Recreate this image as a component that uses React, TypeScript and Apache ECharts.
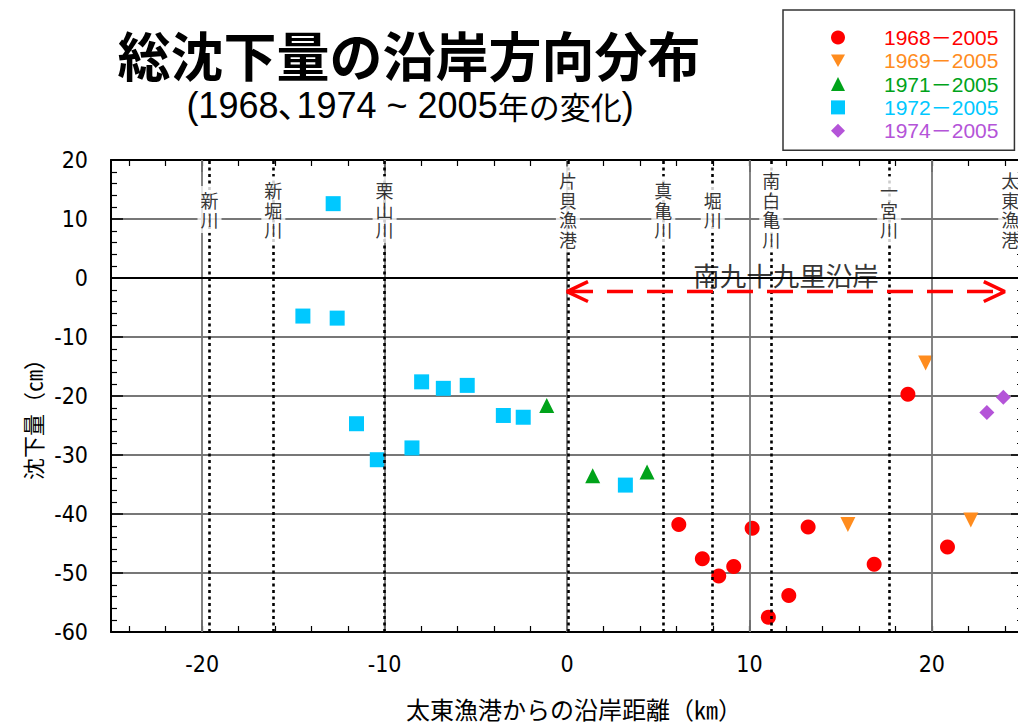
import React, { useEffect, useRef } from 'react';
import * as echarts from 'echarts';

// ---- data ----
const xMajorTicks = [-20, -10, 0, 10, 20];
const xMinorTicks = [-24, -22, -20, -18, -16, -14, -12, -10, -8, -6, -4, -2, 0, 2, 4, 6, 8, 10, 12, 14, 16, 18, 20, 22, 24];

const s1968: number[][] = [
  [6.13, -41.8], [7.42, -47.6], [8.32, -50.5], [9.14, -48.9], [10.15, -42.4], [11.04, -57.5],
  [12.16, -53.8], [13.22, -42.2], [16.84, -48.5], [18.69, -19.7], [20.86, -45.6],
];
const s1969: number[][] = [[15.4, -41.8], [19.66, -14.4], [22.14, -41.0]];
const s1971: number[][] = [[-1.11, -21.6], [1.41, -33.5], [4.39, -32.9]];
const s1972: number[][] = [
  [-14.48, -6.45], [-12.82, 12.6], [-12.6, -6.8], [-11.54, -24.7], [-10.4, -30.8], [-8.5, -28.8],
  [-7.97, -17.6], [-6.78, -18.7], [-5.47, -18.2], [-3.49, -23.3], [-2.4, -23.6], [3.2, -35.1],
];
const s1974: number[][] = [[23.02, -22.8], [23.92, -20.2]];

const seriesNames = ['1968－2005', '1969－2005', '1971－2005', '1972－2005', '1974－2005'];
const seriesColors = ['#ff0000', '#ff8c1e', '#00a31a', '#00c8ff', '#b454d8'];
const seriesData = [s1968, s1969, s1971, s1972, s1974];

const riverNames = ['新川', '新堀川', '栗山川', '片貝漁港', '真亀川', '堀川', '南白亀川', '一宮川', '太東漁港'];
const riverX = [-19.6, -16.1, -10.0, 0.05, 5.28, 7.99, 11.2, 17.66, 24.3];
const riverHasLine = [true, true, true, true, true, true, true, true, false];
const riverLabelY = 11.6;

const regionName = '南九十九里沿岸';
const regionLabelAt = [12.0, 0.63];
const arrowFrom = 0;
const arrowTo = 24;
const arrowY = -2.3;
const arrowHeadLen = 1.15;
const arrowHeadHalf = 1.68;

// ---- styles ----
const cjk = "'Noto Sans CJK JP', sans-serif";
const latin = "'Liberation Sans', Arial, 'Noto Sans CJK JP', sans-serif";
const narrow = "'Liberation Sans Narrow', 'DejaVu Sans Condensed', 'Liberation Sans', sans-serif";
const downTriangle = 'path://M0,0L10,0L5,9Z';

function buildOption() {
  const baseX = { type: 'value', min: -25, max: 25, gridIndex: 0 };
  const majorX = (position: string, labels: boolean) => ({
    ...baseX,
    position,
    axisLine: { show: true, onZero: false, lineStyle: { color: '#000', width: 2 } },
    axisTick: { show: true, inside: true, length: 12, customValues: xMajorTicks, lineStyle: { color: '#000', width: 1.5 } },
    axisLabel: labels
      ? { show: true, customValues: xMajorTicks, margin: 20, fontSize: 23, color: '#000', fontFamily: narrow }
      : { show: false },
    splitLine: { show: false },
    ...(labels
      ? {
          name: '太東漁港からの沿岸距離（㎞）',
          nameLocation: 'middle',
          nameGap: 64,
          nameTextStyle: { fontSize: 24, color: '#000', fontFamily: cjk, padding: [0, 0, 0, 14] },
        }
      : {}),
  });
  const minorX = (position: string) => ({
    ...baseX,
    position,
    axisLine: { show: false, onZero: false },
    axisTick: { show: true, inside: true, length: 6, customValues: xMinorTicks, lineStyle: { color: '#000', width: 1.2 } },
    axisLabel: { show: false },
    splitLine: { show: false },
  });
  const yAx = (position: string, labels: boolean) => ({
    type: 'value',
    min: -60,
    max: 20,
    interval: 10,
    position,
    axisLine: { show: true, onZero: false, lineStyle: { color: '#000', width: 2 } },
    axisTick: { show: true, inside: true, length: 12, lineStyle: { color: '#000', width: 1.5 } },
    minorTick: { show: true, splitNumber: 5, length: 6, lineStyle: { color: '#000', width: 1.2 } },
    axisLabel: labels ? { show: true, margin: 23, fontSize: 23, color: '#000', fontFamily: narrow } : { show: false },
    splitLine: labels ? { show: true, lineStyle: { color: '#777', width: 1.8 } } : { show: false },
    ...(labels
      ? {
          name: '沈下量（㎝）',
          nameLocation: 'middle',
          nameGap: 68,
          nameTextStyle: { fontSize: 22, color: '#000', fontFamily: cjk, padding: [0, 36, 0, 0] },
        }
      : {}),
  });

  const scatterSeries = (i: number, symbol: string, size: number, extra: any = {}) => ({
    name: seriesNames[i],
    type: 'scatter',
    symbol,
    symbolSize: size,
    data: seriesData[i],
    itemStyle: { color: seriesColors[i], opacity: 1 },
    z: 3,
    ...extra,
  });

  const riverLabelData = riverNames.map((n, i) => [riverX[i], riverLabelY, n]);

  return {
    animation: false,
    backgroundColor: '#fff',
    title: [
      {
        text: '総沈下量の沿岸方向分布',
        left: 409,
        top: 27,
        padding: 0,
        textAlign: 'center',
        textStyle: { fontSize: 53, fontWeight: 'bold', fontFamily: cjk, color: '#000' },
      },
      {
        text: '{a|(1968､1974 ~ 2005}{b|年の変化}{a|)}',
        left: 410,
        top: 87,
        padding: 0,
        textAlign: 'center',
        textStyle: {
          fontWeight: 'normal',
          rich: {
            a: { fontSize: 36, fontFamily: latin, color: '#000', fontWeight: 'normal' },
            b: { fontSize: 31, fontFamily: cjk, color: '#000', fontWeight: 'normal' },
          },
        },
      },
    ],
    legend: {
      orient: 'vertical',
      left: 783,
      top: 10,
      padding: [17, 16, 9, 48],
      itemGap: 2.3,
      itemWidth: 14,
      itemHeight: 14,
      borderColor: '#333',
      borderWidth: 1.5,
      backgroundColor: '#fff',
      textStyle: { fontSize: 21, fontFamily: latin, padding: [0, 0, 0, 34] },
      data: seriesNames.map((n, i) => ({
        name: n,
        textStyle: { color: seriesColors[i] },
        ...(i === 1 ? { icon: downTriangle } : {}),
      })),
    },
    grid: { left: 111, right: 7, top: 160, bottom: 90, containLabel: false },
    xAxis: [majorX('bottom', true), minorX('bottom'), majorX('top', false), minorX('top')],
    yAxis: [yAx('left', true), yAx('right', false)],
    series: [
      {
        name: 'grid',
        type: 'scatter',
        data: [],
        z: 1,
        markLine: {
          silent: true,
          symbol: ['none', 'none'],
          label: { show: false },
          lineStyle: { color: '#777', width: 1.8, type: 'solid' },
          data: xMajorTicks.map((v) => ({ xAxis: v })),
        },
      },
      {
        name: 'zero',
        type: 'scatter',
        data: [],
        z: 2,
        markLine: {
          silent: true,
          symbol: ['none', 'none'],
          label: { show: false },
          lineStyle: { color: '#000', width: 2, type: 'solid' },
          data: [{ yAxis: 0 }],
        },
      },
      scatterSeries(0, 'circle', 15),
      scatterSeries(1, 'triangle', 15, { symbolRotate: 180 }),
      scatterSeries(2, 'triangle', 15),
      scatterSeries(3, 'rect', 15),
      scatterSeries(4, 'diamond', 15),
      {
        name: 'rivers',
        type: 'scatter',
        data: [],
        z: 4,
        markLine: {
          silent: true,
          symbol: ['none', 'none'],
          label: { show: false },
          lineStyle: { color: '#000', width: 2.6, type: [3, 3.5] },
          data: riverX.filter((_, i) => riverHasLine[i]).map((v) => ({ xAxis: v })),
        },
      },
      {
        name: 'arrow',
        type: 'line',
        data: [[arrowFrom, arrowY], [arrowTo, arrowY]],
        symbol: 'none',
        z: 5,
        lineStyle: { color: '#ff0000', width: 3.5, type: [26, 14] },
      },
      {
        name: 'arrowL',
        type: 'line',
        data: [
          [arrowFrom + arrowHeadLen, arrowY + arrowHeadHalf],
          [arrowFrom, arrowY],
          [arrowFrom + arrowHeadLen, arrowY - arrowHeadHalf],
        ],
        symbol: 'none',
        z: 5,
        lineStyle: { color: '#ff0000', width: 3.5 },
      },
      {
        name: 'arrowR',
        type: 'line',
        data: [
          [arrowTo - arrowHeadLen, arrowY + arrowHeadHalf],
          [arrowTo, arrowY],
          [arrowTo - arrowHeadLen, arrowY - arrowHeadHalf],
        ],
        symbol: 'none',
        z: 5,
        lineStyle: { color: '#ff0000', width: 3.5 },
      },
      {
        name: 'riverLabels',
        type: 'scatter',
        symbolSize: 0,
        z: 6,
        data: riverLabelData,
        label: {
          show: true,
          position: 'inside',
          formatter: (p: any) => String(p.data[2]).split('').join('\n'),
          fontSize: 18,
          lineHeight: 19.5,
          color: '#000',
          fontFamily: cjk,
          backgroundColor: '#fff',
          padding: [4, 3],
        },
      },
      {
        name: 'regionLabel',
        type: 'scatter',
        symbolSize: 0,
        z: 6,
        data: [[regionLabelAt[0], regionLabelAt[1], regionName]],
        label: {
          show: true,
          position: 'inside',
          formatter: (p: any) => String(p.data[2]),
          fontSize: 26.5,
          color: '#000',
          fontFamily: cjk,
        },
      },
    ],
  } as any;
}

export default function App() {
  const ref = useRef<HTMLDivElement>(null);
  useEffect(() => {
    if (!ref.current) return;
    const chart = echarts.init(ref.current, null, { renderer: 'svg' });
    chart.setOption(buildOption());
    return () => chart.dispose();
  }, []);
  return (
    <div
      style={{
        position: 'fixed',
        left: 0,
        top: 0,
        width: 1018,
        height: 725,
        overflow: 'hidden',
        background: '#fff',
      }}
    >
      <div ref={ref} style={{ width: 1030, height: 725 }} />
    </div>
  );
}
